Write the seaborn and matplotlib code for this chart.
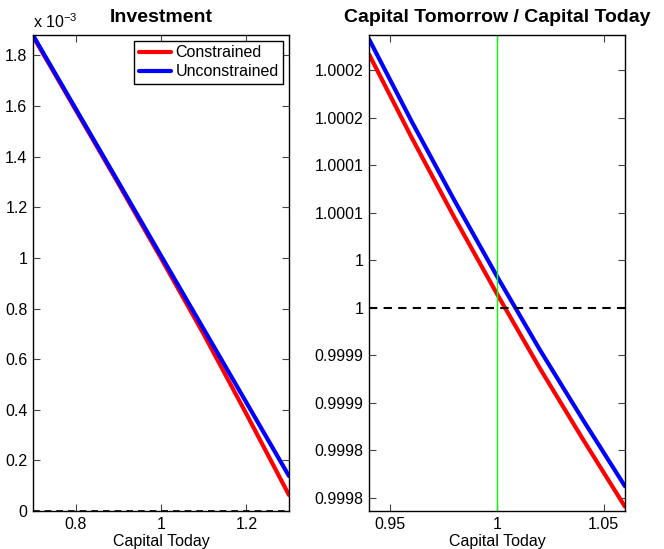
import matplotlib
matplotlib.use("Agg")
import matplotlib.pyplot as plt
import seaborn as sns
import pandas as pd
from matplotlib.ticker import FixedLocator, FixedFormatter

# Investment policy over today's capital
capital_inv = [0.70, 0.80, 0.90, 1.00, 1.10, 1.20, 1.30]
inv_constrained = [1.876e-3, 1.585e-3, 1.294e-3, 0.999e-3, 0.699e-3, 0.384e-3, 0.063e-3]
inv_unconstrained = [1.880e-3, 1.590e-3, 1.300e-3, 1.009e-3, 0.719e-3, 0.429e-3, 0.138e-3]

# Growth factor of capital over today's capital
capital_growth = [0.94, 0.96, 0.98, 1.00, 1.02, 1.04, 1.06]
growth_constrained = [1.0002667, 1.0001790, 1.0000950, 1.0000145, 0.9999365, 0.9998625, 0.9997905]
growth_unconstrained = [1.0002827, 1.0001960, 1.0001130, 1.0000330, 0.9999560, 0.9998830, 0.9998120]

inv_yticks = [0, 0.2e-3, 0.4e-3, 0.6e-3, 0.8e-3, 1.0e-3, 1.2e-3, 1.4e-3, 1.6e-3, 1.8e-3]
inv_ylabels = ["0", "0.2", "0.4", "0.6", "0.8", "1", "1.2", "1.4", "1.6", "1.8"]
inv_xticks = [0.8, 1.0, 1.2]
inv_xlabels = ["0.8", "1", "1.2"]

growth_yticks = [0.9998, 0.99985, 0.9999, 0.99995, 1.0, 1.00005, 1.0001, 1.00015, 1.0002, 1.00025]
growth_ylabels = ["0.9998", "0.9998", "0.9999", "0.9999", "1", "1", "1.0001", "1.0001", "1.0002", "1.0002"]
growth_xticks = [0.95, 1.0, 1.05]
growth_xlabels = ["0.95", "1", "1.05"]

sns.set_theme(style="white")
plt.rcParams["font.family"] = ["Liberation Sans", "DejaVu Sans"]
plt.rcParams["mathtext.fontset"] = "custom"
plt.rcParams["mathtext.rm"] = "Liberation Sans"
plt.rcParams["axes.unicode_minus"] = True
plt.rcParams["text.color"] = "black"
plt.rcParams["axes.labelcolor"] = "black"
plt.rcParams["xtick.labelcolor"] = "black"
plt.rcParams["ytick.labelcolor"] = "black"

FS = 11.5
RED = "#ff0000"
BLUE = "#0000ff"

fig = plt.figure(figsize=(6.64, 5.49), dpi=100)
ax1 = fig.add_axes([33 / 664, 38 / 549, 256 / 664, 476 / 549])
ax2 = fig.add_axes([369 / 664, 38 / 549, 256 / 664, 476 / 549])

inv_df = pd.DataFrame({"capital": capital_inv,
                       "Constrained": inv_constrained,
                       "Unconstrained": inv_unconstrained})
growth_df = pd.DataFrame({"capital": capital_growth,
                          "Constrained": growth_constrained,
                          "Unconstrained": growth_unconstrained})

# Left: investment
sns.lineplot(data=inv_df, x="capital", y="Constrained", ax=ax1, color=RED,
             linewidth=3, label="Constrained")
sns.lineplot(data=inv_df, x="capital", y="Unconstrained", ax=ax1, color=BLUE,
             linewidth=3, label="Unconstrained")
ax1.axhline(0, color="black", linestyle="--", linewidth=1.2, dashes=(4, 3))
ax1.set_xlim(0.7, 1.3)
ax1.set_ylim(0, 1.881e-3)
ax1.yaxis.set_major_locator(FixedLocator(inv_yticks))
ax1.yaxis.set_major_formatter(FixedFormatter(inv_ylabels))
ax1.xaxis.set_major_locator(FixedLocator(inv_xticks))
ax1.xaxis.set_major_formatter(FixedFormatter(inv_xlabels))
ax1.set_title("Investment", fontsize=14, fontweight="bold", pad=9, color="black")
ax1.set_xlabel("Capital Today", fontsize=FS, labelpad=2)
ax1.set_ylabel("")
ax1.text(0.0, 1.008, r"x 10$^{-3}$", transform=ax1.transAxes,
         ha="left", va="bottom", fontsize=FS, color="black")
leg = ax1.legend(loc="upper right", fontsize=FS, frameon=True, fancybox=False,
                 borderaxespad=0.35, handlelength=2.0, handletextpad=0.3,
                 borderpad=0.3, labelspacing=0.25)
leg.get_frame().set_edgecolor("black")
leg.get_frame().set_linewidth(1.0)
leg.get_frame().set_alpha(1.0)
for t in leg.get_texts():
    t.set_color("black")

# Right: capital tomorrow over capital today
sns.lineplot(data=growth_df, x="capital", y="Constrained", ax=ax2, color=RED,
             linewidth=3, legend=False)
sns.lineplot(data=growth_df, x="capital", y="Unconstrained", ax=ax2, color=BLUE,
             linewidth=3, legend=False)
ax2.axhline(1.0, color="black", linestyle="--", linewidth=1.5, dashes=(4, 3))
ax2.axvline(1.0, color="#00ff00", linewidth=1.0)
ax2.set_xlim(0.94, 1.06)
ax2.set_ylim(0.999786, 1.000287)
ax2.yaxis.set_major_locator(FixedLocator(growth_yticks))
ax2.yaxis.set_major_formatter(FixedFormatter(growth_ylabels))
ax2.xaxis.set_major_locator(FixedLocator(growth_xticks))
ax2.xaxis.set_major_formatter(FixedFormatter(growth_xlabels))
ax2.set_title("Capital Tomorrow / Capital Today", fontsize=14, fontweight="bold",
              pad=9, color="black")
ax2.set_xlabel("Capital Today", fontsize=FS, labelpad=2)
ax2.set_ylabel("")

for ax in (ax1, ax2):
    for s in ax.spines.values():
        s.set_visible(True)
        s.set_color("black")
        s.set_linewidth(1.0)
    ax.tick_params(direction="in", length=5, width=0.8, color="#444444",
                   labelcolor="black", labelsize=FS, top=True, right=True,
                   left=True, bottom=True, pad=4)
    ax.grid(False)

fig.savefig("out.png", dpi=100, facecolor="white")
